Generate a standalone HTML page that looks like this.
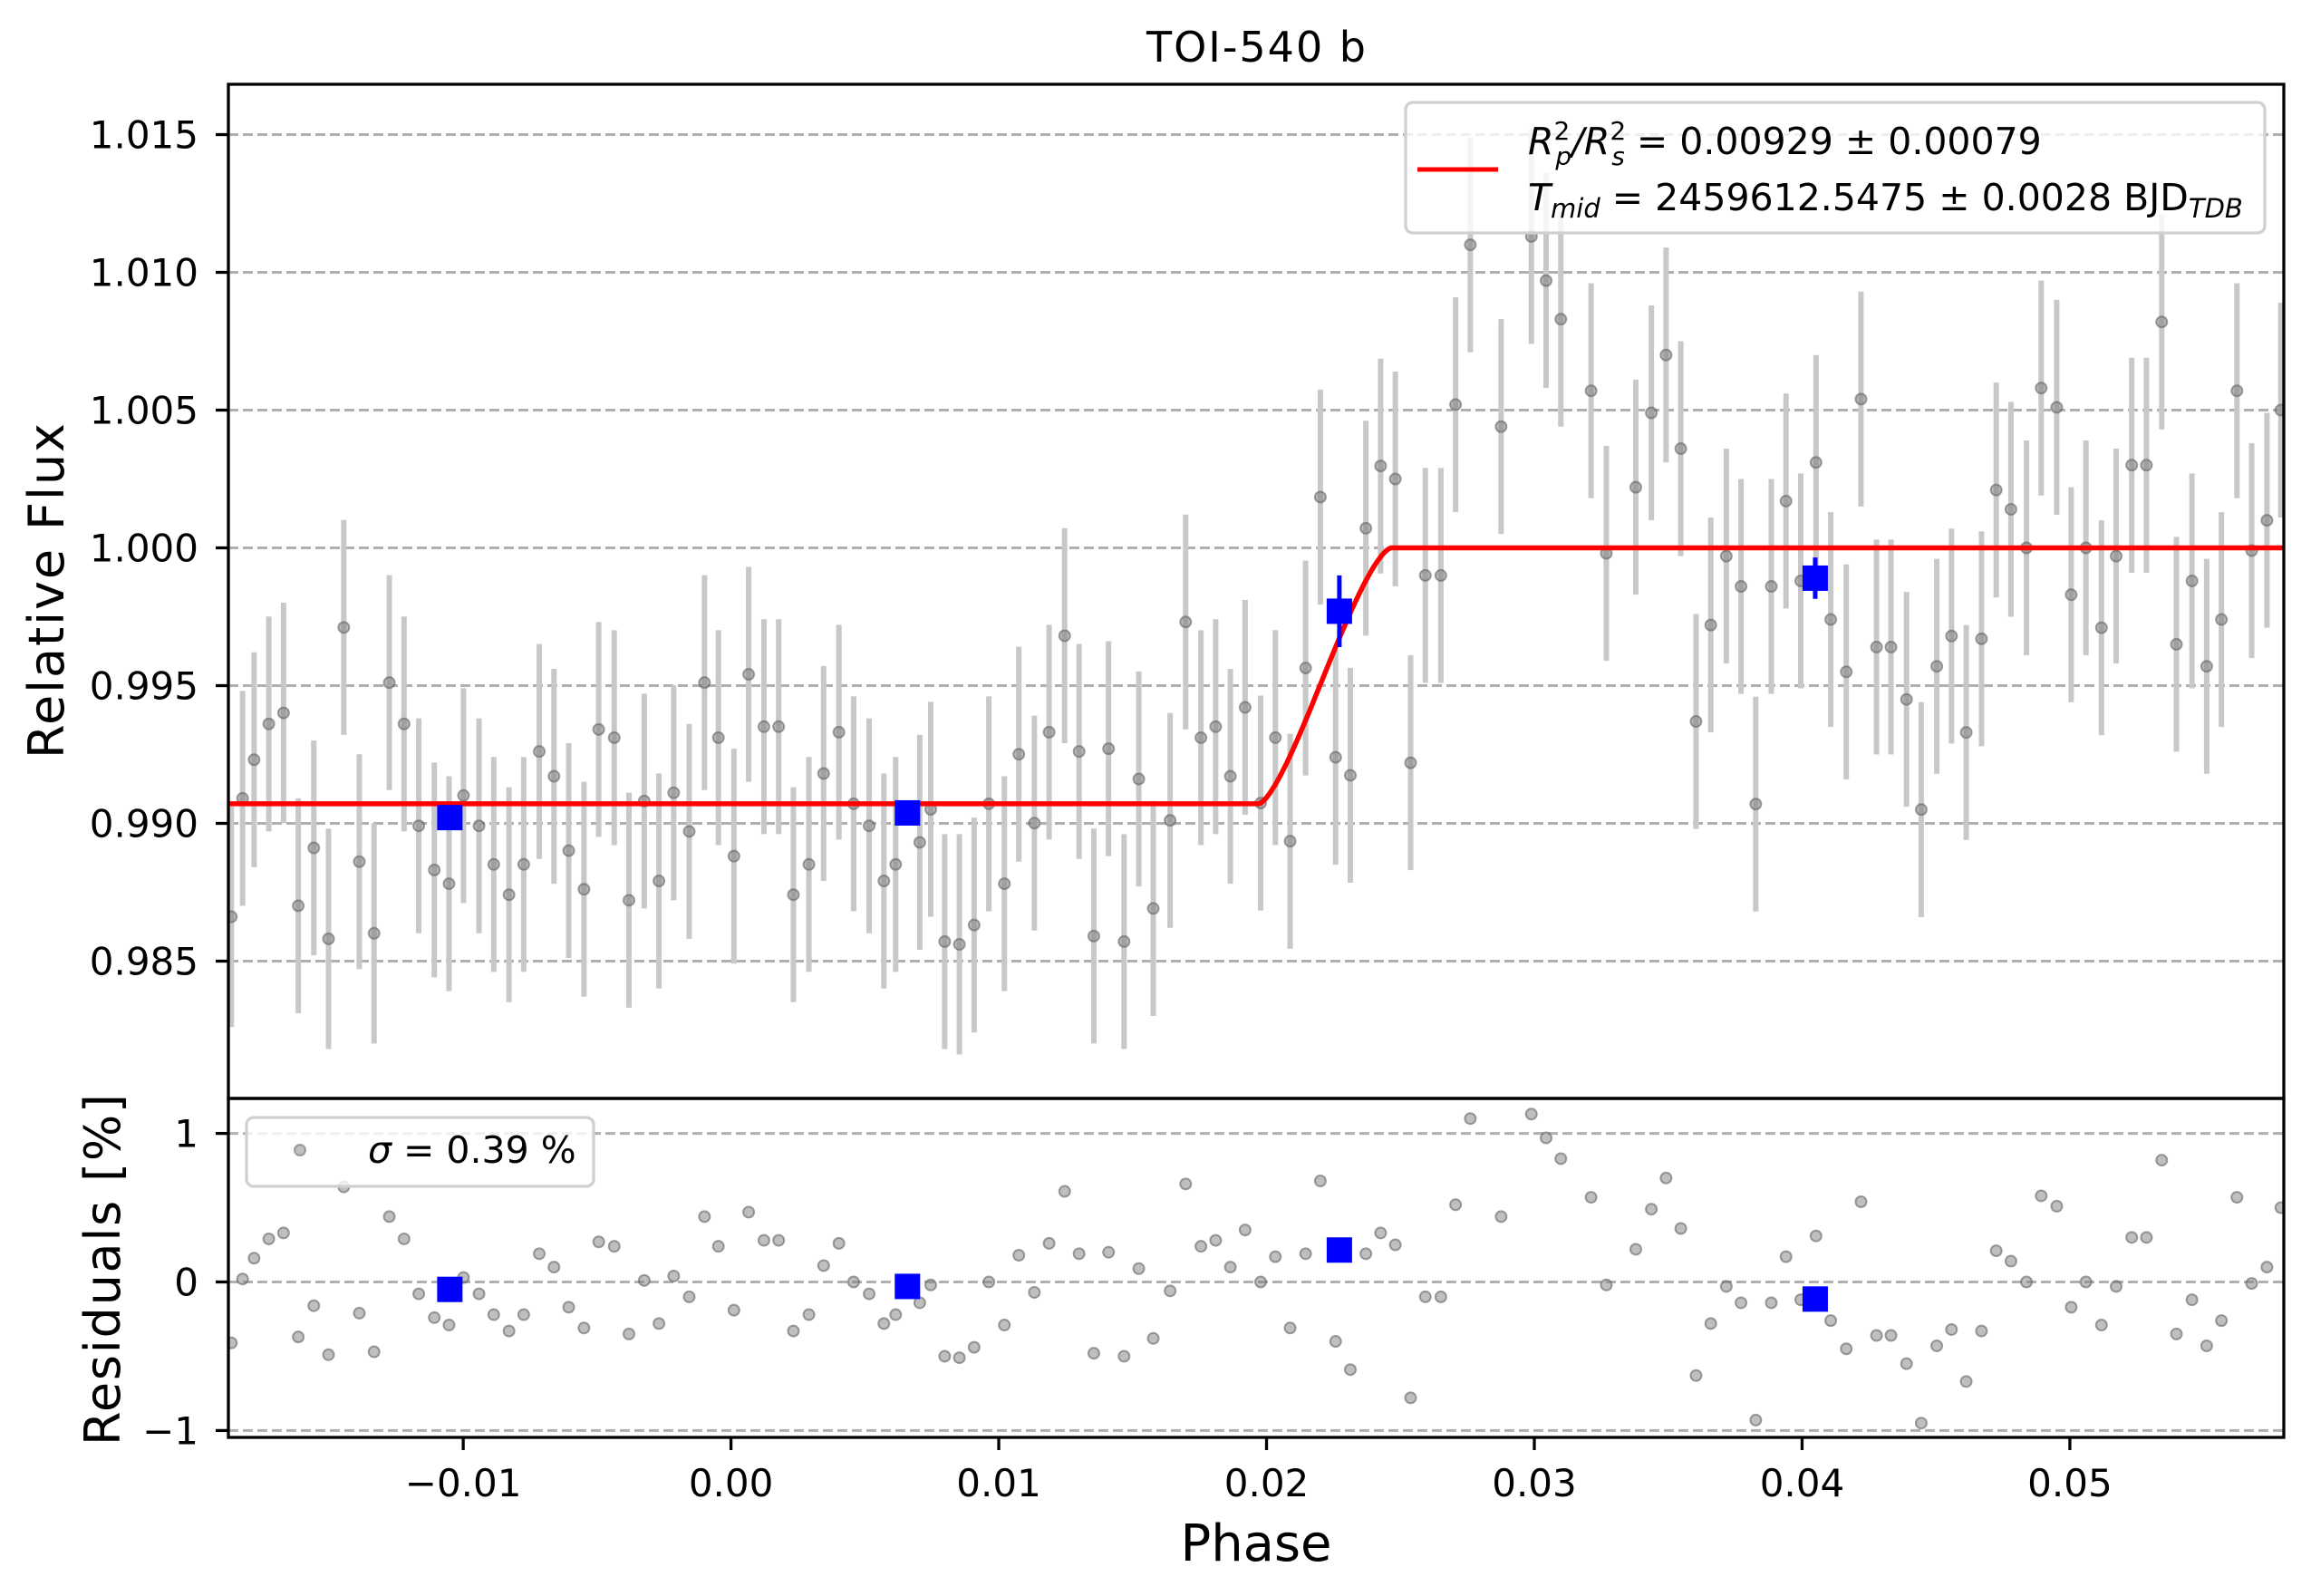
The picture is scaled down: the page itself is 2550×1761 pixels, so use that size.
<!DOCTYPE html>
<html><head><meta charset="utf-8"><style>
html,body{margin:0;padding:0;background:#fff;}
svg{display:block;font-family:"DejaVu Sans","Liberation Sans",sans-serif;}
</style></head><body>
<svg id="fig" width="2550" height="1761" viewBox="0 0 2550 1761" xmlns="http://www.w3.org/2000/svg">
<defs>
<clipPath id="clipTop"><rect x="252" y="93" width="2268" height="1119"/></clipPath>
<clipPath id="clipBot"><rect x="252" y="1212" width="2268" height="374"/></clipPath>
</defs>
<rect width="2550" height="1761" fill="#fff"/>
<text x="1386" y="68" font-size="46" text-anchor="middle" textLength="242">TOI-540 b</text>
<g id="gridTop"></g>
<g id="gridBot"></g>
<g id="topMarks" clip-path="url(#clipTop)"></g>
<g id="botMarks" clip-path="url(#clipBot)"></g>
<rect x="252" y="93" width="2268" height="1119" fill="none" stroke="#000" stroke-width="3.3"/>
<rect x="252" y="1212" width="2268" height="374" fill="none" stroke="#000" stroke-width="3.3"/>
<g id="ticks"></g>
<text transform="translate(70,652) rotate(-90)" font-size="54" text-anchor="middle" textLength="370">Relative Flux</text>
<text transform="translate(132,1401) rotate(-90)" font-size="54" text-anchor="middle" textLength="388">Residuals [%]</text>
<text x="1386" y="1722" font-size="56" text-anchor="middle" textLength="167">Phase</text>
<g>
<rect x="1551" y="113" width="948" height="144" rx="8" fill="rgba(255,255,255,0.8)" stroke="#d0d0d0" stroke-width="3.3"/>
<line x1="1564" y1="187" x2="1653" y2="187" stroke="#f00" stroke-width="5"/>
<text x="1686" y="170" font-size="41"><tspan font-style="italic">R</tspan><tspan font-size="28" dy="-16">2</tspan><tspan font-size="28" font-style="italic" dx="-16" dy="28">p</tspan><tspan dy="-12" font-style="italic">/R</tspan><tspan font-size="28" dy="-16">2</tspan><tspan font-size="28" font-style="italic" dx="-16" dy="28">s</tspan><tspan dy="-12"> = 0.00929 ± 0.00079</tspan></text>
<text x="1686" y="232" font-size="41"><tspan font-style="italic">T</tspan><tspan font-size="29" font-style="italic" dy="8">mid</tspan><tspan dy="-8"> = 2459612.5475 ± 0.0028 BJD</tspan><tspan font-size="29" font-style="italic" dy="8">TDB</tspan></text>
</g>
<g>
<rect x="272" y="1233" width="383" height="76" rx="8" fill="rgba(255,255,255,0.8)" stroke="#d0d0d0" stroke-width="3.3"/>
<circle cx="331" cy="1269" r="6" fill="rgba(128,128,128,0.5)" stroke="rgba(110,110,110,0.6)" stroke-width="2"/>
<text x="406" y="1283" font-size="41"><tspan font-style="italic">σ</tspan> = 0.39 %</text>
</g>
</svg>
<script>
// ---- data ----
const phase = [-0.01866,-0.01824,-0.01781,-0.01726,-0.01671,-0.01616,-0.01558,-0.01503,-0.01446,-0.01388,-0.01333,-0.01276,-0.01221,-0.01166,-0.01108,-0.01053,-0.00999,-0.00941,-0.00886,-0.00829,-0.00774,-0.00716,-0.00661,-0.00606,-0.00549,-0.00494,-0.00436,-0.00381,-0.00324,-0.00269,-0.00214,-0.00156,-0.00099,-0.00047,0.00011,0.00066,0.00123,0.00178,0.00233,0.00291,0.00346,0.00403,0.00458,0.00516,0.00571,0.00615,0.00705,0.00746,0.00798,0.00853,0.00908,0.00963,0.01021,0.01075,0.01133,0.01188,0.01246,0.01300,0.01355,0.01410,0.01468,0.01523,0.01577,0.01640,0.01698,0.01755,0.01810,0.01865,0.01920,0.01978,0.02033,0.02088,0.02146,0.02201,0.02258,0.02313,0.02371,0.02426,0.02481,0.02538,0.02593,0.02651,0.02706,0.02761,0.02876,0.02989,0.03044,0.03099,0.03212,0.03269,0.03379,0.03437,0.03492,0.03547,0.03604,0.03659,0.03717,0.03772,0.03827,0.03885,0.03940,0.03995,0.04052,0.04107,0.04165,0.04220,0.04278,0.04332,0.04390,0.04445,0.04503,0.04558,0.04613,0.04670,0.04725,0.04780,0.04838,0.04893,0.04951,0.05005,0.05060,0.05118,0.05173,0.05231,0.05286,0.05343,0.05398,0.05456,0.05511,0.05566,0.05624,0.05679,0.05736,0.05788];
const residualPct = [-0.41,0.02,0.16,0.29,0.33,-0.37,-0.16,-0.49,0.64,-0.21,-0.47,0.44,0.29,-0.08,-0.24,-0.29,0.03,-0.08,-0.22,-0.33,-0.22,0.19,0.10,-0.17,-0.31,0.27,0.24,-0.35,0.01,-0.28,0.04,-0.10,0.44,0.24,-0.19,0.47,0.28,0.28,-0.33,-0.22,0.11,0.26,0.00,-0.08,-0.28,-0.22,-0.14,-0.02,-0.50,-0.51,-0.44,0.00,-0.29,0.18,-0.07,0.26,0.61,0.19,-0.48,0.20,-0.50,0.09,-0.38,-0.06,0.66,0.24,0.28,0.10,0.35,0.00,0.17,-0.31,0.19,0.68,-0.40,-0.59,0.19,0.33,0.25,-0.78,-0.10,-0.10,0.52,1.10,0.44,1.13,0.97,0.83,0.57,-0.02,0.22,0.49,0.70,0.36,-0.63,-0.28,-0.03,-0.14,-0.93,-0.14,0.17,-0.12,0.31,-0.26,-0.45,0.54,-0.36,-0.36,-0.55,-0.95,-0.43,-0.32,-0.67,-0.33,0.21,0.14,0.00,0.58,0.51,-0.17,0.00,-0.29,-0.03,0.30,0.30,0.82,-0.35,-0.12,-0.43,-0.26,0.57,-0.01,0.10,0.50];
const fluxErr = [0.0040,0.0039,0.0039,0.0039,0.0040,0.0039,0.0039,0.0040,0.0039,0.0039,0.0040,0.0039,0.0039,0.0039,0.0039,0.0039,0.0039,0.0039,0.0039,0.0039,0.0039,0.0039,0.0039,0.0039,0.0039,0.0039,0.0039,0.0039,0.0039,0.0039,0.0039,0.0039,0.0039,0.0039,0.0039,0.0039,0.0039,0.0039,0.0039,0.0039,0.0039,0.0039,0.0039,0.0039,0.0039,0.0039,0.0039,0.0039,0.0039,0.0040,0.0039,0.0039,0.0039,0.0039,0.0039,0.0039,0.0039,0.0039,0.0039,0.0039,0.0039,0.0039,0.0039,0.0039,0.0039,0.0039,0.0039,0.0039,0.0039,0.0039,0.0039,0.0039,0.0039,0.0039,0.0039,0.0039,0.0039,0.0039,0.0039,0.0039,0.0039,0.0039,0.0039,0.0039,0.0039,0.0039,0.0039,0.0039,0.0039,0.0039,0.0039,0.0039,0.0039,0.0039,0.0039,0.0039,0.0039,0.0039,0.0039,0.0039,0.0039,0.0039,0.0039,0.0039,0.0039,0.0039,0.0039,0.0039,0.0039,0.0039,0.0039,0.0039,0.0039,0.0039,0.0039,0.0039,0.0039,0.0039,0.0039,0.0039,0.0039,0.0039,0.0039,0.0039,0.0039,0.0039,0.0039,0.0039,0.0039,0.0039,0.0039,0.0039,0.0039,0.0039];
const binPhase = [-0.0105,0.00659,0.02272,0.04049];
const binFlux = [0.99021,0.99038,0.99770,0.99890];
const binErr = [0.0002,0.0002,0.0013,0.00075];
const binResidualPct = [-0.05,-0.03,0.215,-0.115];
const depth = 0.00929;
const egressStart = 0.01971;
const egressEnd = 0.02465;
const fluxTicks = [0.985,0.990,0.995,1.000,1.005,1.010,1.015];
const fluxTickLabels = ["0.985","0.990","0.995","1.000","1.005","1.010","1.015"];
const resTicks = [-1,0,1];
const resTickLabels = ["\u22121","0","1"];
const phaseTicks = [-0.01,0,0.01,0.02,0.03,0.04,0.05];
const phaseTickLabels = ["\u22120.01","0.00","0.01","0.02","0.03","0.04","0.05"];

// ---- axes ----
const NS = "http://www.w3.org/2000/svg";
const X0 = 252, X1 = 2520;
const xMin = -0.01877, xMax = 0.05799;
function xs(p){ return X0 + (p - xMin) / (xMax - xMin) * (X1 - X0); }
function ysTop(v){ return 604.5 - (v - 1) / 0.005 * 152; }
function ysBot(r){ return 1414.5 - r * 163.9; }
function model(p){
  const k = Math.sqrt(depth);
  if (p <= egressStart) return 1 - depth;
  if (p >= egressEnd) return 1;
  const z = (1 - k) + (p - egressStart) / (egressEnd - egressStart) * 2 * k;
  const a = k*k*Math.acos((z*z + k*k - 1)/(2*z*k));
  const b = Math.acos((z*z + 1 - k*k)/(2*z));
  const c = 0.5*Math.sqrt(Math.max(0,(-z+k+1)*(z+k-1)*(z-k+1)*(z+k+1)));
  return 1 - (a + b - c)/Math.PI;
}
function mk(tag, attrs, parent){
  const e = document.createElementNS(NS, tag);
  for (const k in attrs) e.setAttribute(k, attrs[k]);
  parent.appendChild(e);
  return e;
}
const gridTop = document.getElementById('gridTop');
const gridBot = document.getElementById('gridBot');
const topM = document.getElementById('topMarks');
const botM = document.getElementById('botMarks');
const ticks = document.getElementById('ticks');

fluxTicks.forEach((v,i)=>{
  const y = ysTop(v);
  const g = mk('line',{x1:X0,x2:X1,y1:y,y2:y,stroke:'#b0b0b0','stroke-width':3,'stroke-dasharray':'11 5'},gridTop);
  
  
  const t = mk('line',{x1:X0-14,x2:X0,y1:y,y2:y,stroke:'#000','stroke-width':3.3},ticks);
  
  
  const l = mk('text',{x:219,y:y+15,'font-size':42,'text-anchor':'end'},ticks);
  l.textContent = fluxTickLabels[i];
  
  
});
resTicks.forEach((v,i)=>{
  const y = ysBot(v);
  const g = mk('line',{x1:X0,x2:X1,y1:y,y2:y,stroke:'#b0b0b0','stroke-width':3,'stroke-dasharray':'11 5'},gridBot);
  
  
  const t = mk('line',{x1:X0-14,x2:X0,y1:y,y2:y,stroke:'#000','stroke-width':3.3},ticks);
  
  
  const l = mk('text',{x:219,y:y+15,'font-size':42,'text-anchor':'end'},ticks);
  l.textContent = resTickLabels[i];
  
  
});
phaseTicks.forEach((v,i)=>{
  const x = xs(v);
  const t = mk('line',{x1:x,x2:x,y1:1586,y2:1600,stroke:'#000','stroke-width':3.3},ticks);
  
  
  const l = mk('text',{x:x,y:1651,'font-size':42,'text-anchor':'middle'},ticks);
  l.textContent = phaseTickLabels[i];
  
  
});

// error bars + points (upper)
phase.forEach((p,i)=>{
  const f = model(p) + residualPct[i]/100;
  const x = xs(p);
  const eb = mk('line',{x1:x,x2:x,y1:ysTop(f-fluxErr[i]),y2:ysTop(f+fluxErr[i]),stroke:'#c8c8c8','stroke-width':6},topM);
  
  
});
phase.forEach((p,i)=>{
  const f = model(p) + residualPct[i]/100;
  const c = mk('circle',{cx:xs(p),cy:ysTop(f),r:6,fill:'rgba(128,128,128,0.55)',stroke:'rgba(100,100,100,0.6)','stroke-width':2},topM);
  
  
});
// model line
let d = '';
for (let j=0;j<=900;j++){
  const p = xMin + (xMax-xMin)*j/900;
  d += (j?'L':'M') + xs(p).toFixed(1) + ',' + ysTop(model(p)).toFixed(1);
}
const ml = mk('path',{d:d,fill:'none',stroke:'#ff0000','stroke-width':5.5},topM);


// binned points upper
binPhase.forEach((p,i)=>{
  const x = xs(p), y = ysTop(binFlux[i]);
  const e = mk('line',{x1:x,x2:x,y1:ysTop(binFlux[i]-binErr[i]),y2:ysTop(binFlux[i]+binErr[i]),stroke:'#0000ff','stroke-width':5},topM);
  
  
  const s = mk('rect',{x:x-14,y:y-14,width:28,height:28,fill:'#0000ff'},topM);
  
  
});
// residuals
phase.forEach((p,i)=>{
  const c = mk('circle',{cx:xs(p),cy:ysBot(residualPct[i]),r:6,fill:'rgba(128,128,128,0.5)',stroke:'rgba(100,100,100,0.6)','stroke-width':2},botM);
  
  
});
binPhase.forEach((p,i)=>{
  const x = xs(p), y = ysBot(binResidualPct[i]);
  const s = mk('rect',{x:x-14,y:y-14,width:28,height:28,fill:'#0000ff'},botM);
  
  
});
</script>
</body></html>
